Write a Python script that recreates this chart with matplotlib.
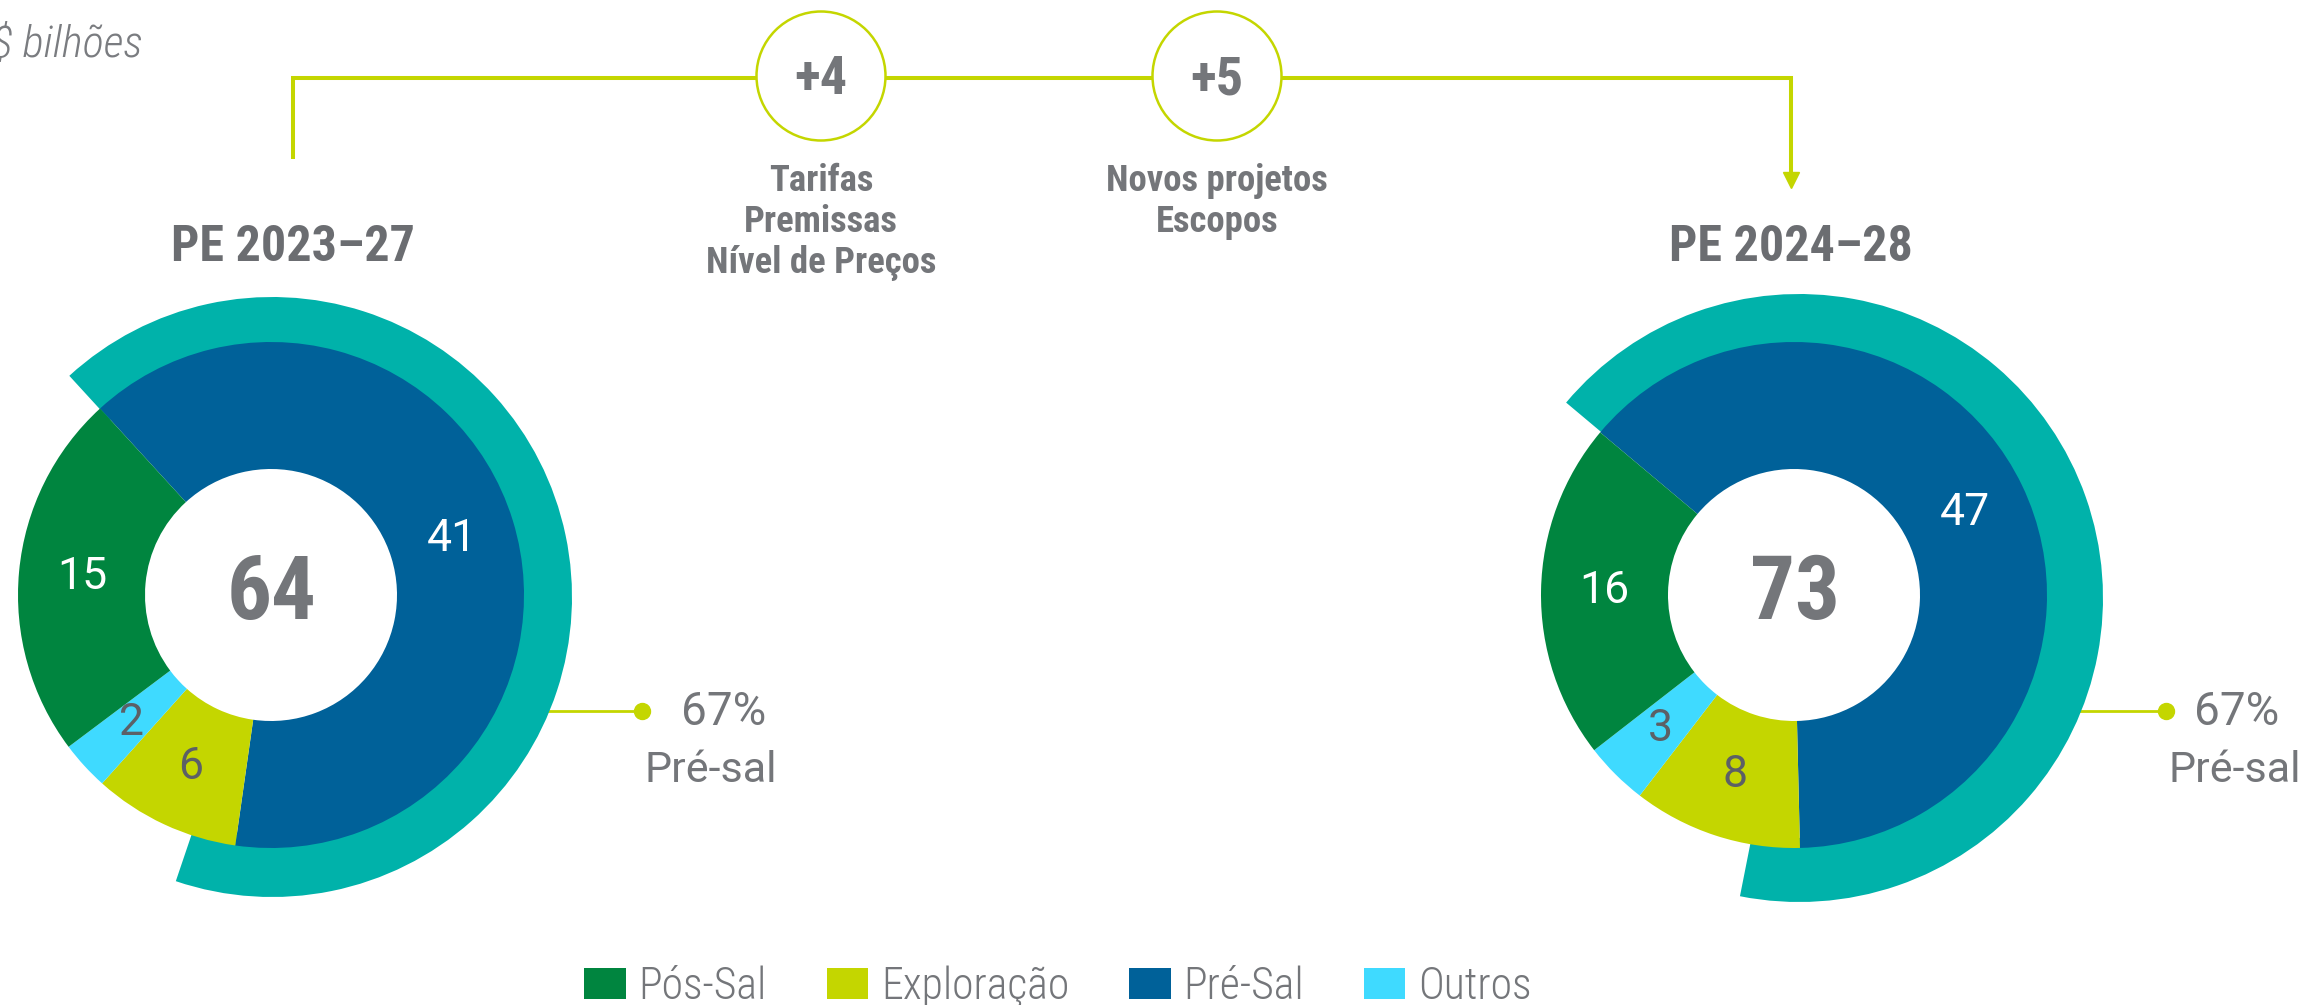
import matplotlib
matplotlib.use('Agg')
import matplotlib.pyplot as plt
from matplotlib.patches import Circle, Patch
import numpy as np

# ---------------- data ----------------
unit_label = 'R$ bilhões'
plan_titles = ['PE 2023–27', 'PE 2024–28']
ring_categories = ['Pré-Sal', 'Exploração', 'Outros', 'Pós-Sal']   # clockwise order in ring
legend_categories = ['Pós-Sal', 'Exploração', 'Pré-Sal', 'Outros']
values_2023 = [41, 6, 2, 15]
values_2024 = [47, 8, 3, 16]
totals = ['64', '73']
presal_share = [0.67, 0.67]
presal_labels = ['67%', '67%']
presal_caption = 'Pré-sal'
bridge_steps = ['+4', '+5']
bridge_labels = [['Tarifas', 'Premissas', 'Nível de Preços'], ['Novos projetos', 'Escopos']]

# ---------------- style ----------------
colors = {'Pós-Sal': '#00853f', 'Exploração': '#c4d600', 'Pré-Sal': '#006199', 'Outros': '#3fdaff'}
TEAL = '#00b2aa'
LIME = '#c4d600'
GREY = '#74767a'
DARK = '#5c6066'
FAM = ['Roboto Condensed', 'Liberation Sans Narrow', 'Roboto', 'DejaVu Sans']
FAM_WIDE = ['Roboto', 'DejaVu Sans']
plt.rcParams['font.family'] = FAM

W, H = 2305, 1005
fig = plt.figure(figsize=(W / 100, H / 100), dpi=100)
ax = fig.add_axes([0, 0, 1, 1])

def Y(y):
    return H - y

R_HOLE, R_MID = 126, 253

donuts = [
    dict(vals=values_2023, total=totals[0], c=(271, 595), start=132.5, tc=(272, 597), tr=300,
         share=presal_share[0], title=plan_titles[0], tx=293, pct=presal_labels[0],
         dot_x=642, pct_x=724, cap_x=711),
    dict(vals=values_2024, total=totals[1], c=(1794, 595), start=140, tc=(1799, 598), tr=304,
         share=presal_share[1], title=plan_titles[1], tx=1791, pct=presal_labels[1],
         dot_x=2166, pct_x=2237, cap_x=2235),
]

for d in donuts:
    cx, cy = d['c']
    # outer teal ring (share of pre-sal)
    ax.pie([d['share']], normalize=False, colors=[TEAL], startangle=d['start'],
           counterclock=False, radius=d['tr'], center=(d['tc'][0], Y(d['tc'][1])),
           wedgeprops=dict(width=d['tr'] - 240, linewidth=0))
    vals = d['vals']
    tot = sum(vals)
    wedges, texts, autotexts = ax.pie(
        vals, colors=[colors[c] for c in ring_categories], startangle=d['start'],
        counterclock=False, radius=R_MID, center=(cx, Y(cy)),
        wedgeprops=dict(width=R_MID - R_HOLE, linewidth=0),
        autopct=lambda p, t=tot: f'{p * t / 100:.0f}',
        pctdistance=(R_MID + R_HOLE) / 2 / R_MID,
        textprops=dict(fontsize=32, color='white', family=FAM_WIDE))
    for cat, at in zip(ring_categories, autotexts):
        at.set_color('white' if cat in ('Pré-Sal', 'Pós-Sal') else DARK)
    # total in the middle
    ax.text(cx + 1, Y(619), d['total'], ha='center', va='baseline', fontsize=64,
            fontweight='bold', color=GREY)
    # title
    ax.text(d['tx'], Y(261), d['title'], ha='center', va='baseline', fontsize=36,
            fontweight='bold', color='#6b6d71')
    # pre-sal connector
    tcx, tcy = d['tc']
    ly = 711
    ex = tcx + np.sqrt(d['tr'] ** 2 - (ly - tcy) ** 2)
    ax.plot([ex - 4, d['dot_x']], [Y(ly), Y(ly)], color=LIME, lw=2, zorder=0.5,
            solid_capstyle='butt')
    ax.plot([d['dot_x']], [Y(ly)], 'o', color=LIME, ms=11.5, zorder=3)
    ax.text(d['pct_x'], Y(725), d['pct'], ha='center', va='baseline', fontsize=33,
            color=GREY, family=FAM_WIDE)
    ax.text(d['cap_x'], Y(782), presal_caption, ha='center', va='baseline', fontsize=31,
            color=GREY, family=FAM_WIDE)

# ---------------- bridge connector ----------------
x0, x1, ytop = 293, 1791, 77.7
ax.plot([x0, x0, x1, x1], [Y(159), Y(ytop), Y(ytop), Y(173)], color=LIME, lw=2.9,
        solid_joinstyle='miter', solid_capstyle='butt', zorder=1)
ax.plot([x1], [Y(180)], marker='v', color=LIME, ms=12, zorder=1)

bridge_x = [821, 1217]
for bx, step, lines in zip(bridge_x, bridge_steps, bridge_labels):
    ax.add_patch(Circle((bx, Y(76)), 64.5, facecolor='white', edgecolor=LIME, lw=1.8, zorder=2))
    ax.text(bx, Y(94), step, ha='center', va='baseline', fontsize=39, fontweight='bold',
            color=GREY, zorder=3)
    for i, ln in enumerate(lines):
        ax.text(bx, Y(191 + 41 * i), ln, ha='center', va='baseline', fontsize=26.5,
                fontweight='bold', color=GREY)

# unit label (partially cut at the left edge as in the source)
ax.text(143, Y(57), unit_label, ha='right', va='baseline', fontsize=32, style='italic',
        fontweight='light', color='#7a7c80')

# ---------------- legend ----------------
handles = [Patch(facecolor=colors[c], edgecolor='none') for c in legend_categories]
leg = ax.legend(handles, legend_categories, ncol=4, loc='lower center',
                bbox_to_anchor=(1058 / W, (H - 1008) / H), frameon=False,
                handlelength=0.95, handleheight=0.7, handletextpad=0.3,
                columnspacing=1.36, borderpad=0, borderaxespad=0,
                prop=dict(family=FAM, size=31.5, weight='light'))
for t in leg.get_texts():
    t.set_color(GREY)

ax.set_xlim(0, W)
ax.set_ylim(0, H)
ax.set_aspect('auto')
ax.axis('off')
fig.savefig('out.png', dpi=100)
